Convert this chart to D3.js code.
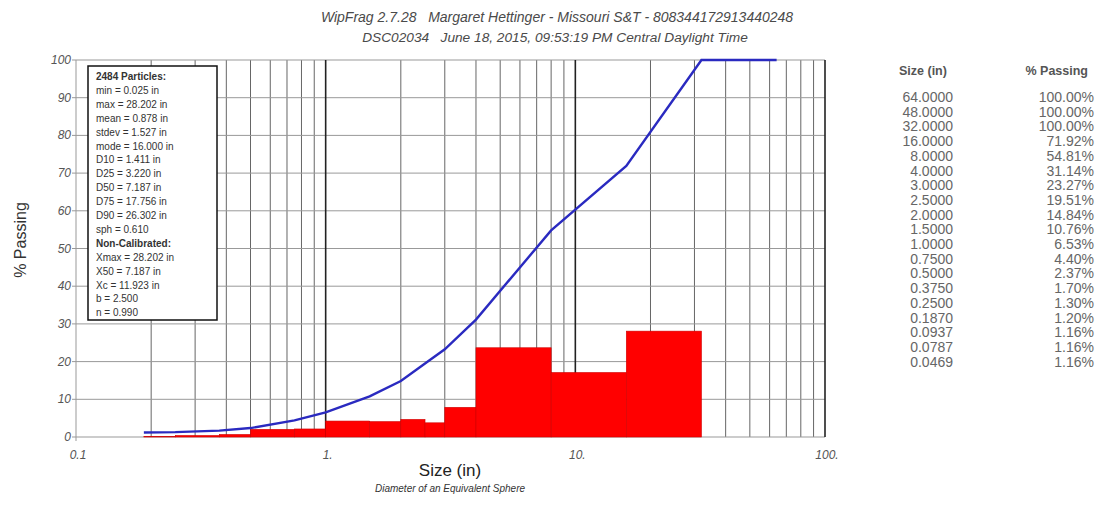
<!DOCTYPE html>
<html>
<head>
<meta charset="utf-8">
<script src="https://cdn.jsdelivr.net/npm/d3@7"></script>
<style>
  body { margin: 0; background: #fff; }
  text { font-family: "Liberation Sans", Arial, sans-serif; }
</style>
</head>
<body>
<svg id="chart" width="1101" height="508"></svg>
<script>
// sieve sizes (in) and cumulative % passing, as listed in the table
const sizes = [64, 48, 32, 16, 8, 4, 3, 2.5, 2, 1.5, 1, 0.75, 0.5, 0.375, 0.25, 0.187, 0.0937, 0.0787, 0.0469];
const passing = [100, 100, 100, 71.92, 54.81, 31.14, 23.27, 19.51, 14.84, 10.76, 6.53, 4.40, 2.37, 1.70, 1.30, 1.20, 1.16, 1.16, 1.16];

// histogram bins (lower, upper, % retained)
const binLo = [0.187, 0.25, 0.375, 0.5, 0.75, 1, 1.5, 2, 2.5, 3, 4, 8, 16];
const binHi = [0.25, 0.375, 0.5, 0.75, 1, 1.5, 2, 2.5, 3, 4, 8, 16, 32];
const binPct = [0.10, 0.40, 0.67, 2.03, 2.13, 4.23, 4.08, 4.67, 3.76, 7.87, 23.67, 17.11, 28.08];

// curve drawn from the smallest sieve that has particles upward
const curveSizes = [0.187, 0.25, 0.375, 0.5, 0.75, 1, 1.5, 2, 2.5, 3, 4, 8, 16, 32, 48, 64];
const curvePct = [1.20, 1.30, 1.70, 2.37, 4.40, 6.53, 10.76, 14.84, 19.51, 23.27, 31.14, 54.81, 71.92, 100, 100, 100];

const sizeLabels = ["64.0000", "48.0000", "32.0000", "16.0000", "8.0000", "4.0000", "3.0000", "2.5000", "2.0000", "1.5000", "1.0000", "0.7500", "0.5000", "0.3750", "0.2500", "0.1870", "0.0937", "0.0787", "0.0469"];

const stats = [
  ["2484 Particles:", true], ["min = 0.025 in"], ["max = 28.202 in"], ["mean = 0.878 in"],
  ["stdev = 1.527 in"], ["mode = 16.000 in"], ["D10 = 1.411 in"], ["D25 = 3.220 in"],
  ["D50 = 7.187 in"], ["D75 = 17.756 in"], ["D90 = 26.302 in"], ["sph = 0.610"],
  ["Non-Calibrated:", true], ["Xmax = 28.202 in"], ["X50 = 7.187 in"], ["Xc = 11.923 in"],
  ["b = 2.500"], ["n = 0.990"]
];

const xTicks = [0.1, 1, 10, 100];
const xTickLabels = ["0.1", "1.", "10.", "100."];
const yTicks = d3.range(0, 101, 10);

const svg = d3.select("#chart");
const x = d3.scaleLog().domain([0.1, 100]).range([76, 825]);
const y = d3.scaleLinear().domain([0, 100]).range([437, 60]);

// titles
svg.append("text").attr("x", 557).attr("y", 22).attr("text-anchor", "middle")
  .attr("font-size", 14).attr("font-style", "italic").attr("fill", "#4a4a4a")
  .attr("xml:space", "preserve")
  .text("WipFrag 2.7.28   Margaret Hettinger - Missouri S&T - 808344172913440248");
svg.append("text").attr("x", 555).attr("y", 42).attr("text-anchor", "middle")
  .attr("font-size", 13.7).attr("font-style", "italic").attr("fill", "#4a4a4a")
  .attr("xml:space", "preserve")
  .text("DSC02034   June 18, 2015, 09:53:19 PM Central Daylight Time");

// grid
const minor = [];
[0.1, 1, 10].forEach(d => { for (let k = 2; k <= 9; k++) minor.push(d * k); });
svg.append("g").selectAll("line").data(minor).join("line")
  .attr("x1", d => x(d)).attr("x2", d => x(d))
  .attr("y1", y(100)).attr("y2", y(0))
  .attr("stroke", "#666").attr("stroke-width", 1);
svg.append("g").selectAll("line").data(yTicks).join("line")
  .attr("x1", 72).attr("x2", x(100))
  .attr("y1", d => y(d)).attr("y2", d => y(d))
  .attr("stroke", "#999").attr("stroke-width", 1);
svg.append("g").selectAll("line").data([1, 10, 100]).join("line")
  .attr("x1", d => x(d)).attr("x2", d => x(d))
  .attr("y1", y(100)).attr("y2", y(0))
  .attr("stroke", "#222").attr("stroke-width", 1.6);
svg.append("line").attr("x1", x(0.1)).attr("x2", x(0.1))
  .attr("y1", y(100)).attr("y2", y(0) + 4)
  .attr("stroke", "#999").attr("stroke-width", 1);

// histogram
svg.append("g").selectAll("rect").data(binPct).join("rect")
  .attr("x", (d, i) => x(binLo[i]))
  .attr("width", (d, i) => x(binHi[i]) - x(binLo[i]))
  .attr("y", d => y(d))
  .attr("height", d => y(0) - y(d))
  .attr("fill", "#ff0000")
  .attr("stroke", "#d00000").attr("stroke-width", 0.6);

// cumulative curve
svg.append("path")
  .datum(curveSizes.map((s, i) => [s, curvePct[i]]))
  .attr("d", d3.line().x(d => x(d[0])).y(d => y(d[1])))
  .attr("fill", "none").attr("stroke", "#2a2ac0").attr("stroke-width", 2.4);

// axis labels
svg.append("g").selectAll("text").data(yTicks).join("text")
  .attr("x", 71).attr("y", d => y(d) + 4).attr("text-anchor", "end")
  .attr("font-size", 12).attr("font-style", "italic").attr("fill", "#555")
  .text(d => d);
svg.append("g").selectAll("text").data(xTicks).join("text")
  .attr("x", d => x(d) + 2).attr("y", 459).attr("text-anchor", "middle")
  .attr("font-size", 12).attr("font-style", "italic").attr("fill", "#555")
  .text((d, i) => xTickLabels[i]);

svg.append("text").attr("x", 450).attr("y", 476).attr("text-anchor", "middle")
  .attr("font-size", 17).attr("fill", "#222").text("Size (in)");
svg.append("text").attr("x", 450).attr("y", 492).attr("text-anchor", "middle")
  .attr("font-size", 10).attr("font-style", "italic").attr("fill", "#333")
  .text("Diameter of an Equivalent Sphere");
svg.append("text").attr("transform", "translate(26,240) rotate(-90)")
  .attr("text-anchor", "middle").attr("font-size", 16).attr("fill", "#333")
  .text("% Passing");

// stats box
svg.append("rect").attr("x", 88).attr("y", 66).attr("width", 129).attr("height", 254)
  .attr("fill", "#fff").attr("stroke", "#111").attr("stroke-width", 1.5);
svg.append("g").selectAll("text").data(stats).join("text")
  .attr("x", 96).attr("y", (d, i) => 80 + i * 13.9)
  .attr("font-size", 10).attr("fill", "#333")
  .attr("font-weight", d => d[1] ? "bold" : "normal")
  .text(d => d[0]);

// table
const rowY = i => 102 + i * 14.7;
svg.append("text").attr("x", 899).attr("y", 75).attr("font-size", 12.5)
  .attr("font-weight", "bold").attr("fill", "#555").text("Size (in)");
svg.append("text").attr("x", 1088).attr("y", 75).attr("text-anchor", "end").attr("font-size", 12.5)
  .attr("font-weight", "bold").attr("fill", "#555").text("% Passing");
svg.append("g").selectAll("text").data(sizeLabels).join("text")
  .attr("x", 953).attr("y", (d, i) => rowY(i)).attr("text-anchor", "end")
  .attr("font-size", 14).attr("fill", "#666").text(d => d);
svg.append("g").selectAll("text").data(passing).join("text")
  .attr("x", 1094).attr("y", (d, i) => rowY(i)).attr("text-anchor", "end")
  .attr("font-size", 14).attr("fill", "#666").text(d => d.toFixed(2) + "%");
</script>
</body>
</html>
